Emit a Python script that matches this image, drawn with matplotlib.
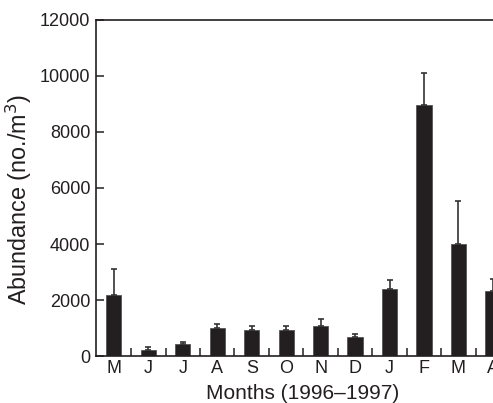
import matplotlib.pyplot as plt
import numpy as np

plt.rcParams['font.family'] = ['Liberation Sans', 'DejaVu Sans']

months = ['M', 'J', 'J', 'A', 'S', 'O', 'N', 'D', 'J', 'F', 'M', 'A']
abundance = [2180, 220, 430, 990, 940, 940, 1070, 690, 2400, 8950, 4000, 2330]
err_up = [920, 90, 60, 150, 140, 120, 250, 80, 300, 1150, 1520, 420]

fig = plt.figure(figsize=(4.93, 4.03), dpi=100)
ax = fig.add_axes([0.1947, 0.1166, 0.84, 0.8338])

x = np.arange(len(months))
ax.bar(x, abundance, width=0.44, color='#231f20', edgecolor='#555555', linewidth=0.6,
       yerr=[np.zeros(len(err_up)), err_up], ecolor='#333333',
       error_kw=dict(elinewidth=1.2, capsize=2.2, capthick=1.2))

ax.set_xlim(-0.52, 11.5)
ax.set_ylim(0, 12000)
ax.set_yticks([0, 2000, 4000, 6000, 8000, 10000, 12000])
ax.set_xticks(x)
ax.set_xticklabels(months)
ax.set_xticks(x[:-1] + 0.5, minor=True)

ax.tick_params(axis='x', which='major', length=0, labelsize=13, pad=3, colors='#231f20')
ax.tick_params(axis='x', which='minor', direction='in', length=6, width=1.1, color='#231f20')
ax.tick_params(axis='y', direction='in', length=6, width=1.1, labelsize=13, pad=4,
               colors='#231f20')

for s in ['left', 'top', 'bottom']:
    ax.spines[s].set_linewidth(1.2)
    ax.spines[s].set_color('#231f20')
ax.spines['right'].set_visible(False)

ax.set_xlabel('Months (1996\u20131997)', fontsize=15, color='#231f20', labelpad=5)
ax.set_ylabel('Abundance (no./m$^3$)', fontsize=16.8, color='#231f20')
ax.yaxis.set_label_coords(-0.15, 0.465)

fig.savefig('out.png', dpi=100)
